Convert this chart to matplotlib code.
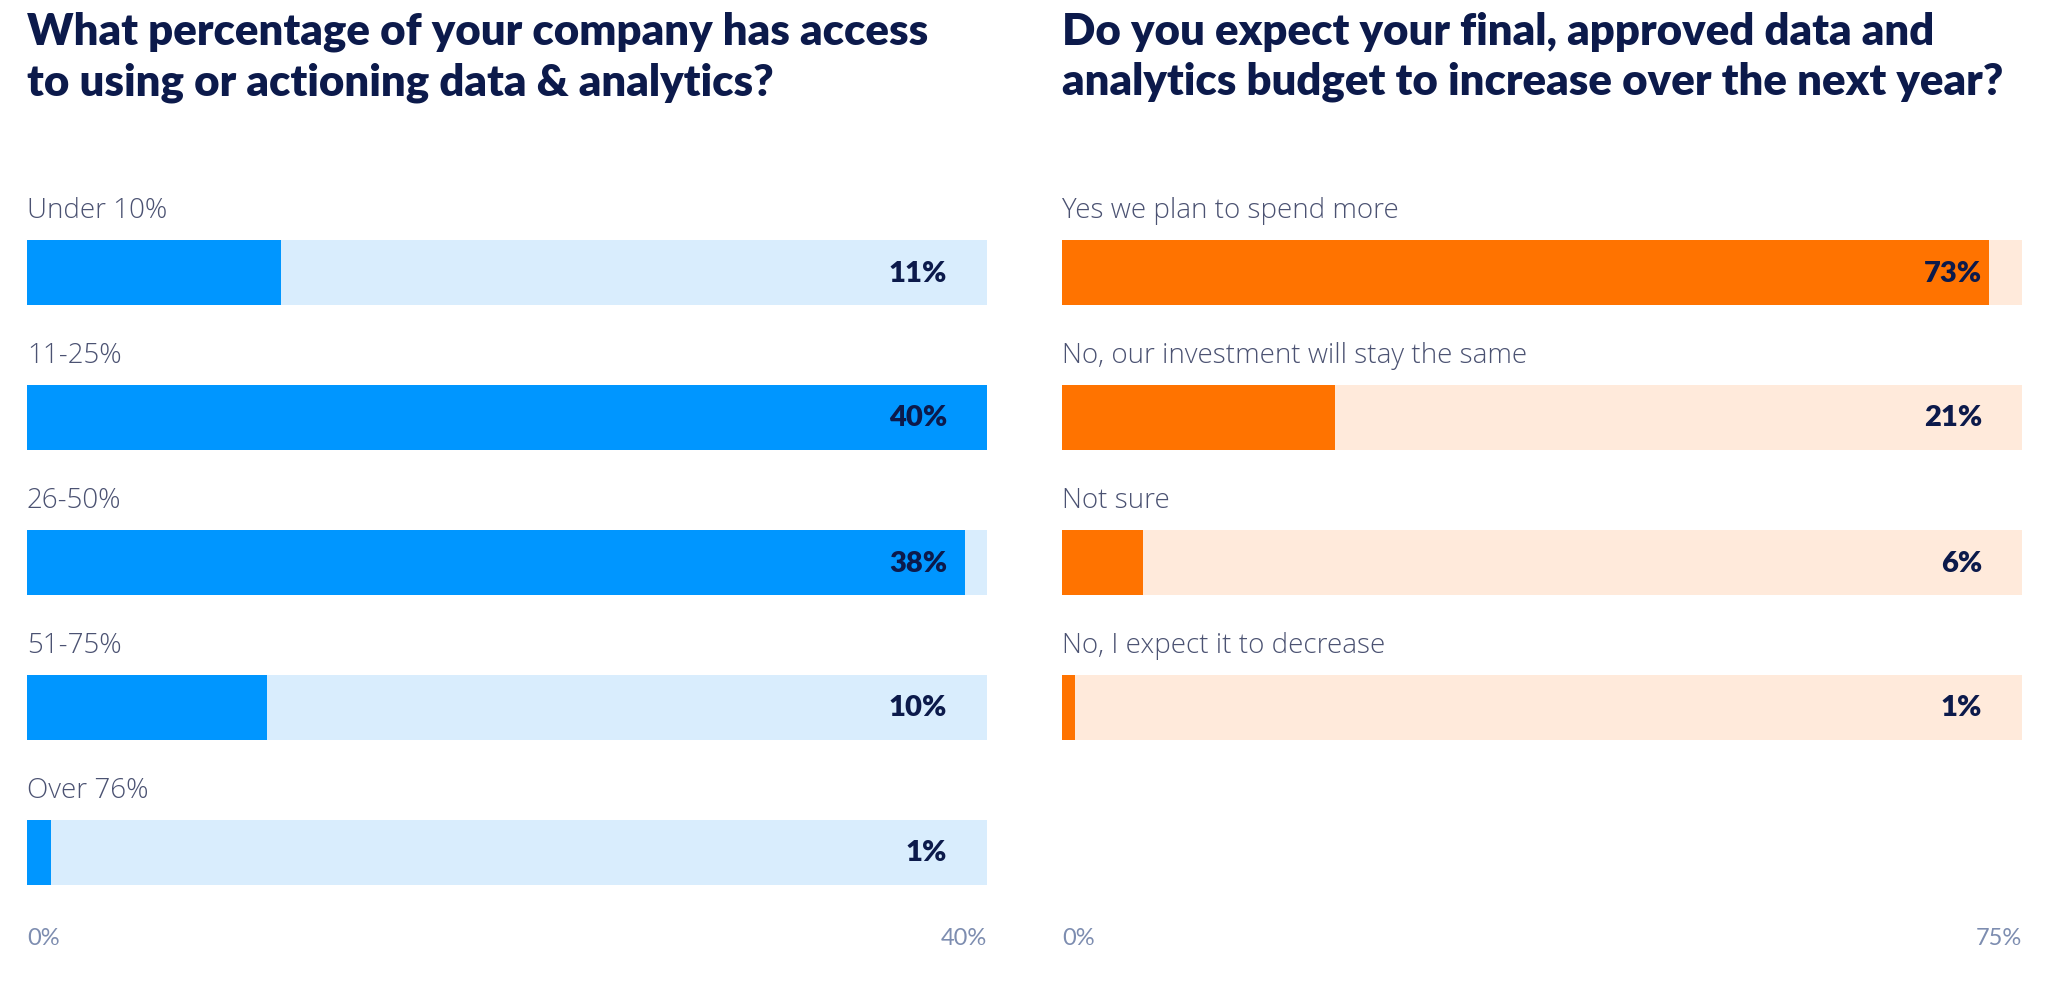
import matplotlib.pyplot as plt
from matplotlib import font_manager

W, H = 2049, 987

access_labels = ['Under 10%', '11-25%', '26-50%', '51-75%', 'Over 76%']
access_pct = [11, 40, 38, 10, 1]
access_bars = [10.6, 40, 39.1, 10.0, 1.0]   # bar lengths as drawn
access_max = 40

budget_labels = ['Yes we plan to spend more', 'No, our investment will stay the same',
                 'Not sure', 'No, I expect it to decrease']
budget_pct = [73, 21, 6, 1]
budget_bars = [72.4, 21.3, 6.3, 1.0]
budget_max = 75

NAVY = '#0c1a4b'
LABEL = '#4b5272'
TICK = '#7d8db0'

names = {f.name for f in font_manager.fontManager.ttflist}
FONT = 'Lato' if 'Lato' in names else 'DejaVu Sans'
LFONT = 'Open Sans' if 'Open Sans' in names else FONT
plt.rcParams['font.family'] = [FONT, 'DejaVu Sans']

fig = plt.figure(figsize=(W / 100, H / 100), dpi=100)


def px_axes(x0, x1, y0, y1):
    # pixel box (top-left origin) -> figure axes
    return fig.add_axes([x0 / W, 1 - y1 / H, (x1 - x0) / W, (y1 - y0) / H])


def panel(x0, x1, labels, pct, bars, vmax, color, track, title):
    ax = px_axes(x0, x1, 201, 926)
    n = len(labels)
    ys = list(range(n))
    ax.barh(ys, [vmax] * n, height=0.455, color=track, linewidth=0)
    ax.barh(ys, bars, height=0.455, color=color, linewidth=0)
    ax.set_xlim(0, vmax)
    ax.set_ylim(4.5, -0.5)
    ax.axis('off')
    for y, lab, v in zip(ys, labels, pct):
        ax.text(0, y - 0.43, lab, ha='left', va='center', fontsize=20,
                color=LABEL, family=[LFONT, 'DejaVu Sans'], fontweight='light')
        ax.text(vmax * (1 - 40 / 960), y, f'{v}%', ha='right', va='center',
                fontsize=21, color=NAVY, fontweight='heavy')
    ax.text(0, 4.585, '0%', ha='left', va='center', fontsize=17, color=TICK,
            clip_on=False)
    ax.text(vmax, 4.585, f'{vmax}%', ha='right', va='center', fontsize=17,
            color=TICK, clip_on=False)
    fig.text(x0 / W, 1 - 12 / H, title, ha='left', va='top', fontsize=31.5,
             fontweight='heavy', color=NAVY, linespacing=1.3)


panel(27, 987, access_labels, access_pct, access_bars, access_max, '#0096ff', '#d9edfd',
      'What percentage of your company has access\nto using or actioning data & analytics?')
panel(1062, 2022, budget_labels, budget_pct, budget_bars, budget_max, '#ff7300', '#ffeadb',
      'Do you expect your final, approved data and\nanalytics budget to increase over the next year?')

fig.savefig('out.png', dpi=100, facecolor='white')
